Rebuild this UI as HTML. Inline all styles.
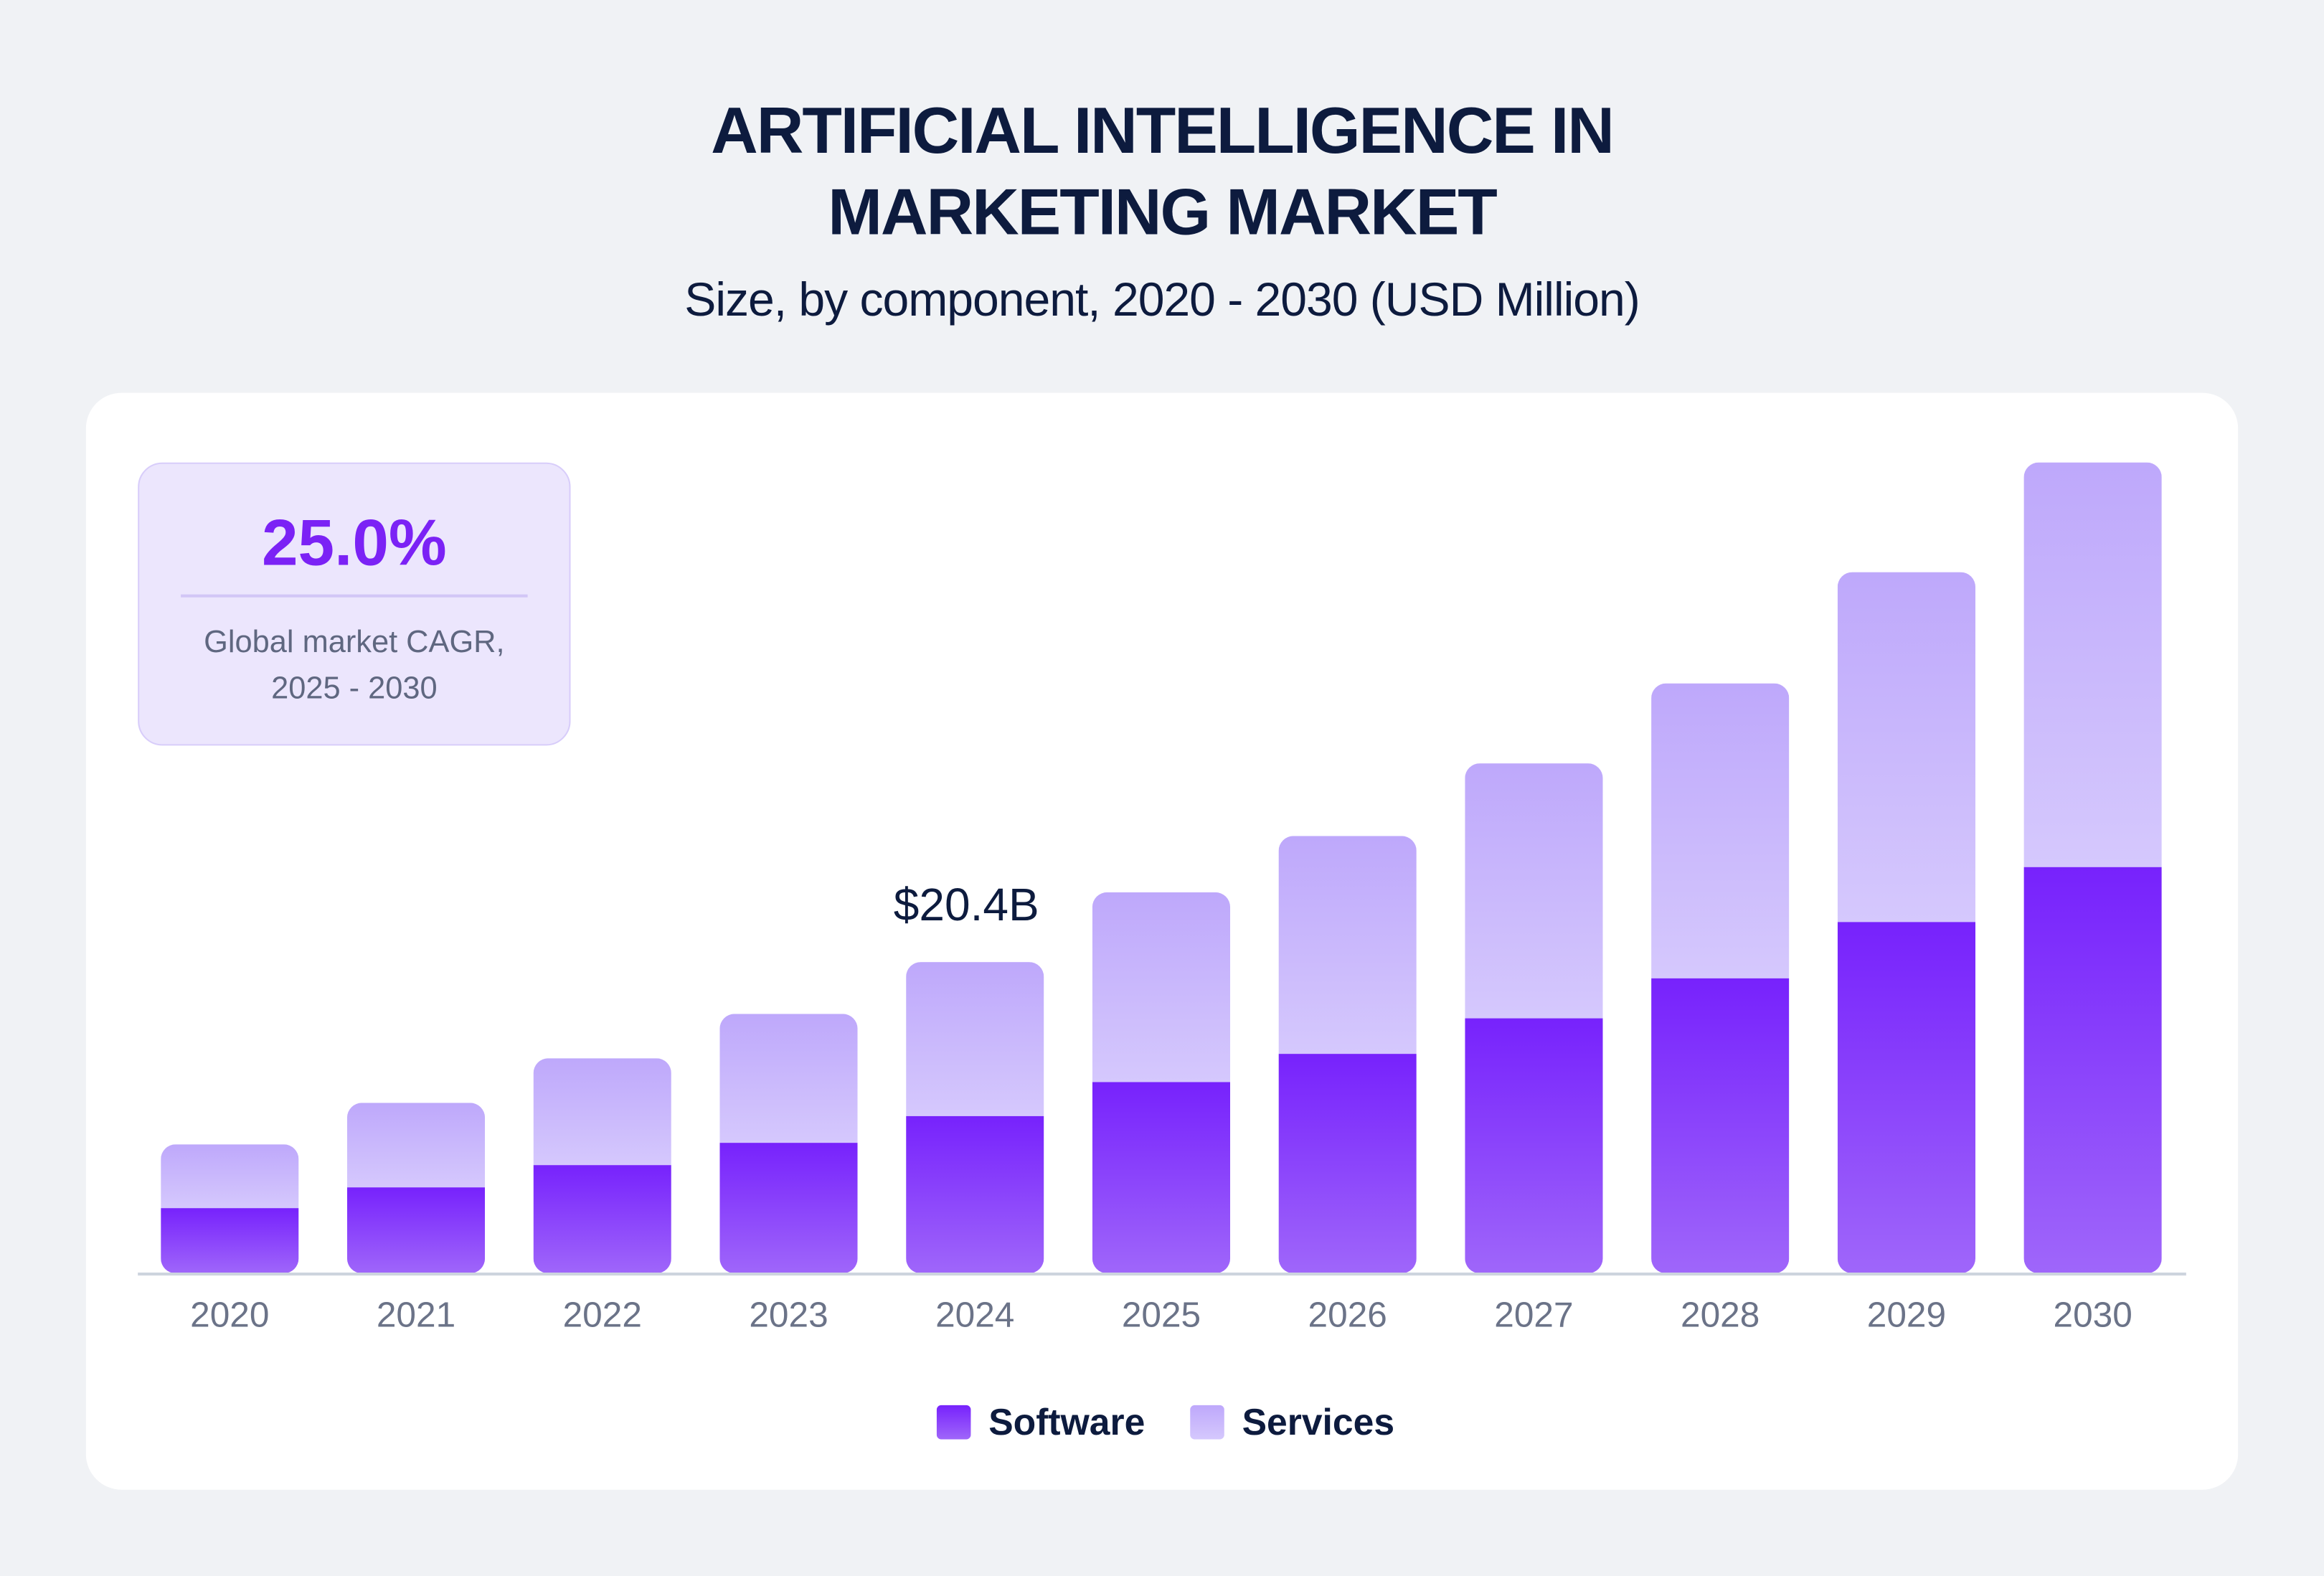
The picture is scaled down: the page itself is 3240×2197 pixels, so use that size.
<!DOCTYPE html>
<html><head><meta charset="utf-8"><style>
html,body{margin:0;padding:0;background:#f0f2f5;}
svg{display:block;font-family:"Liberation Sans",sans-serif;}
</style></head><body>
<svg id="chart" width="3240" height="2197" viewBox="0 0 1568 1063.2" xmlns="http://www.w3.org/2000/svg">
<defs>
<linearGradient id="gSw" x1="0" y1="0" x2="0" y2="1"><stop offset="0" stop-color="#7722fc"/><stop offset="1" stop-color="#9f66fa"/></linearGradient>
<linearGradient id="gSv" x1="0" y1="0" x2="0" y2="1"><stop offset="0" stop-color="#bea8fb"/><stop offset="1" stop-color="#d5c8fd"/></linearGradient>
</defs>
<rect x="0" y="0" width="1568" height="1063.2" fill="#f0f2f5"/>
<text x="784" y="103" text-anchor="middle" font-size="44" font-weight="bold" fill="#0d1b3e" letter-spacing="-1">ARTIFICIAL INTELLIGENCE IN</text>
<text x="784" y="158" text-anchor="middle" font-size="44" font-weight="bold" fill="#0d1b3e" letter-spacing="-1">MARKETING MARKET</text>
<text x="784" y="213" text-anchor="middle" font-size="32" fill="#0d1b3e" letter-spacing="-0.5">Size, by component, 2020 - 2030 (USD Million)</text>
<rect x="58" y="265" width="1452" height="740" rx="24" fill="#ffffff"/>
<g>
<rect x="93.5" y="312.5" width="291" height="190" rx="16" fill="#ece6fd" stroke="#d8cdfa"/>
<text x="239" y="381" text-anchor="middle" font-size="44" font-weight="bold" fill="#7b22f5">25.0%</text>
<line x1="122" y1="402" x2="356" y2="402" stroke="#d2c6f6" stroke-width="2"/>
<text x="239" y="440" text-anchor="middle" font-size="21" fill="#5f6780">Global market CAGR,</text>
<text x="239" y="471" text-anchor="middle" font-size="21" fill="#5f6780">2025 - 2030</text>
</g>
<g id="bars"></g>
<line x1="93" y1="859.5" x2="1475" y2="859.5" stroke="#cdd4de" stroke-width="2"/>
<g id="xlabels"></g>
<text x="652" y="621" text-anchor="middle" font-size="31" fill="#0d1b3e">$20.4B</text>
<g>
<rect x="632" y="948" width="23" height="23" rx="3" fill="url(#gSw)"/>
<text x="667" y="968" font-size="25" font-weight="bold" fill="#0d1b3e">Software</text>
<rect x="803" y="948" width="23" height="23" rx="3" fill="url(#gSv)"/>
<text x="838" y="968" font-size="25" font-weight="bold" fill="#0d1b3e">Services</text>
</g>
</svg>
<script>
const years = ["2020","2021","2022","2023","2024","2025","2026","2027","2028","2029","2030"];
const software = [4.27,5.63,7.09,8.55,10.3,12.53,14.38,16.71,19.33,23.02,26.62];
const services = [4.18,5.54,7.0,8.45,10.1,12.44,14.28,16.71,19.33,22.93,26.52];
const NS="http://www.w3.org/2000/svg";
const baseY=859, pxPerUnit=210/20.4;
const x0=155, step=125.7, barW=93, r=10;
function xc(i){return x0+i*step;}
function yv(v){return baseY-v*pxPerUnit;}
const g=document.getElementById('bars'), gl=document.getElementById('xlabels');
years.forEach((yr,i)=>{
  const left=xc(i)-barW/2, total=software[i]+services[i];
  const cp=document.createElementNS(NS,'clipPath'); cp.setAttribute('id','c'+i);
  const cr=document.createElementNS(NS,'rect');
  cr.setAttribute('x',left);cr.setAttribute('y',yv(total));cr.setAttribute('width',barW);cr.setAttribute('height',baseY-yv(total));cr.setAttribute('rx',r);
  cp.appendChild(cr); g.appendChild(cp);
  const sv=document.createElementNS(NS,'rect');
  
  
  sv.setAttribute('x',left);sv.setAttribute('y',yv(total));sv.setAttribute('width',barW);sv.setAttribute('height',yv(software[i])-yv(total));
  sv.setAttribute('fill','url(#gSv)');sv.setAttribute('clip-path','url(#c'+i+')');
  g.appendChild(sv);
  const sw=document.createElementNS(NS,'rect');
  
  
  sw.setAttribute('x',left);sw.setAttribute('y',yv(software[i]));sw.setAttribute('width',barW);sw.setAttribute('height',baseY-yv(software[i]));
  sw.setAttribute('fill','url(#gSw)');sw.setAttribute('clip-path','url(#c'+i+')');
  g.appendChild(sw);
  const t=document.createElementNS(NS,'text');
  
  
  t.setAttribute('x',xc(i));t.setAttribute('y',895);t.setAttribute('text-anchor','middle');t.setAttribute('font-size','24');t.setAttribute('fill','#6b7388');
  t.textContent=yr; gl.appendChild(t);
});
</script>
</body></html>
